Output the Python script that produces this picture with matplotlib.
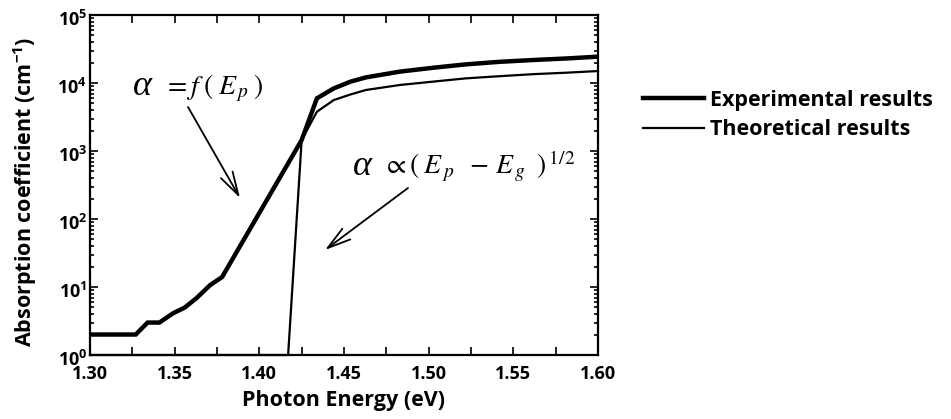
import numpy as np
import matplotlib
matplotlib.use("Agg")
import matplotlib.pyplot as plt
from matplotlib.ticker import FixedLocator, LogLocator, FuncFormatter, NullFormatter
import matplotlib.transforms as mtransforms

# Data
exp_energy = [1.300, 1.327, 1.334, 1.341, 1.349, 1.356, 1.363, 1.371, 1.378, 1.425, 1.434,
              1.444, 1.454, 1.463, 1.483, 1.503, 1.522, 1.542, 1.562, 1.582, 1.600]
exp_alpha = [2, 2, 3, 3, 4.1, 5, 6.9, 10.7, 14, 1450, 5950,
             8340, 10500, 12100, 14700, 16800, 18800, 20500, 21800, 23000, 24400]

theo_energy = [1.300, 1.417, 1.425, 1.434,
               1.444, 1.454, 1.463, 1.483, 1.503, 1.522, 1.542, 1.562, 1.582, 1.600]
theo_alpha = [1, 1, 1450, 3780,
              5620, 6800, 7900, 9350, 10500, 11700, 12600, 13500, 14200, 15000]

x_ticks = [1.30, 1.35, 1.40, 1.45, 1.50, 1.55, 1.60]
x_minor = [1.325, 1.375, 1.425, 1.475, 1.525, 1.575]

plt.rcParams['font.family'] = ['Open Sans', 'DejaVu Sans']
plt.rcParams['mathtext.fontset'] = 'custom'
plt.rcParams['mathtext.rm'] = 'Open Sans:bold'
plt.rcParams['mathtext.bf'] = 'Open Sans:bold'
plt.rcParams['mathtext.it'] = 'Open Sans:bold'

W, H = 951, 419
fig = plt.figure(figsize=(W / 100, H / 100), dpi=100)

def fx(px):
    return px / W

def fy(py):
    return 1 - py / H

ax = fig.add_axes([fx(90), fy(355), 508 / W, 340 / H])

ax.plot(exp_energy, exp_alpha, color='black', lw=3.2, solid_joinstyle='miter',
        label='Experimental results')
ax.plot(theo_energy, theo_alpha, color='black', lw=1.6, label='Theoretical results',
        clip_on=False)

ax.set_yscale('log')
ax.set_xlim(1.30, 1.60)
ax.set_ylim(1, 1e5)

ax.xaxis.set_major_locator(FixedLocator(x_ticks))
ax.xaxis.set_minor_locator(FixedLocator(x_minor))
ax.xaxis.set_major_formatter(FuncFormatter(lambda v, p: '%.2f' % v))
ax.yaxis.set_major_locator(LogLocator(base=10, numticks=10))
ax.yaxis.set_minor_locator(LogLocator(base=10, subs=np.arange(2, 10), numticks=20))
ax.yaxis.set_minor_formatter(NullFormatter())
ax.yaxis.set_major_formatter(FuncFormatter(lambda v, p: r'$\mathbf{10^{%d}}$' % round(np.log10(v))))

ax.tick_params(axis='both', which='both', direction='in', top=True, right=True, width=1.2)
ax.tick_params(axis='x', which='both', length=6, labelsize=13, pad=7)
ax.tick_params(axis='y', which='major', length=6, labelsize=13, pad=2)
ax.tick_params(axis='y', which='minor', length=3)
for lab in ax.get_xticklabels():
    lab.set_fontweight('bold')
for lab in ax.get_yticklabels():
    lab.set_transform(lab.get_transform() + mtransforms.ScaledTranslation(0, -2 / 72, fig.dpi_scale_trans))

for s in ax.spines.values():
    s.set_linewidth(1.6)

ax.set_xlabel('Photon Energy (eV)', fontsize=15.5, fontweight='bold')
ax.xaxis.set_label_coords((343 - 90) / 508, (355 - 400) / 340)
ax.xaxis.label.set_va('center')
ax.set_ylabel(r'Absorption coefficient (cm$^{\mathbf{-1}}$)', fontsize=15.5, fontweight='bold')
ax.yaxis.set_label_coords((25 - 90) / 508, (355 - 192) / 340)
ax.yaxis.label.set_va('center')

# annotations
fig.text(fx(133), fy(95), 'α', fontsize=26, family='Liberation Serif', style='italic',
         va='baseline')
fig.text(fx(163), fy(94), r'$=f\;(\;E_{\,p}\;)$', fontsize=20, math_fontfamily='stix',
         va='baseline')
fig.text(fx(353), fy(175), 'α', fontsize=26, family='Liberation Serif', style='italic',
         va='baseline')
fig.text(fx(382), fy(174), r'$\propto(\;E_{\,p}\;\;-\,E_{\,g}\;\;)^{\,\mathit{1/2}}$', fontsize=20,
         math_fontfamily='stix', va='baseline')

ax.annotate('', xy=(fx(240), fy(198)), xycoords='figure fraction',
            xytext=(fx(188), fy(107)), textcoords='figure fraction',
            arrowprops=dict(arrowstyle='->,head_length=1.4,head_width=0.4', lw=1.3, color='black',
                            shrinkA=0, shrinkB=0, mutation_scale=12))
ax.annotate('', xy=(fx(325), fy(250)), xycoords='figure fraction',
            xytext=(fx(408), fy(188)), textcoords='figure fraction',
            arrowprops=dict(arrowstyle='->,head_length=1.4,head_width=0.4', lw=1.3, color='black',
                            shrinkA=0, shrinkB=0, mutation_scale=12))

fig.legend(loc='center left', bbox_to_anchor=(fx(643), fy(115)), bbox_transform=fig.transFigure,
           frameon=False, prop={'size': 15.5, 'weight': 'bold'}, handlelength=2.85,
           handletextpad=0.25, labelspacing=0.4, borderpad=0, borderaxespad=0)

fig.savefig('out.png', dpi=100)
